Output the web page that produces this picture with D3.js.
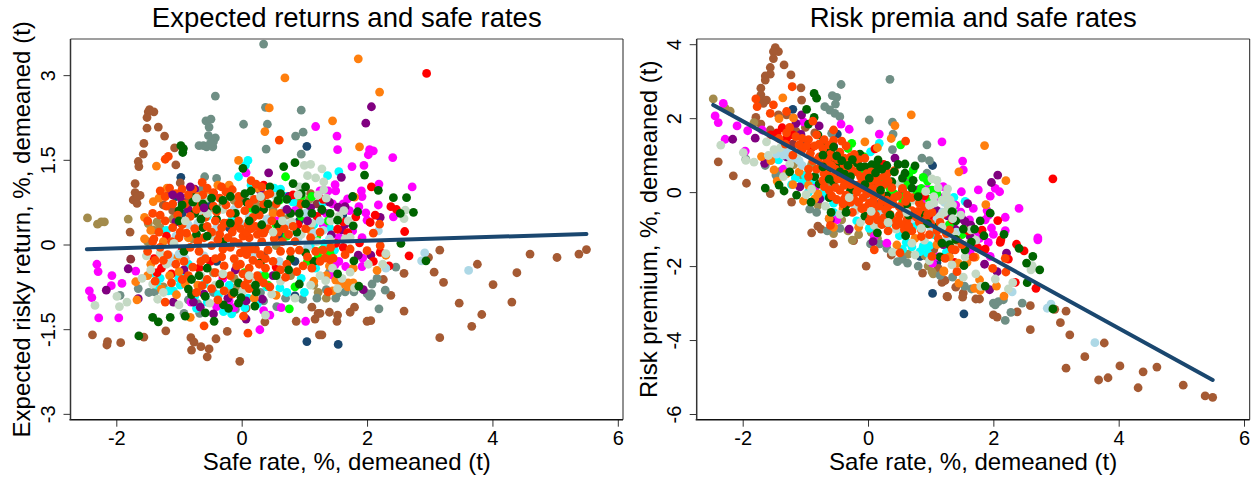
<!DOCTYPE html>
<html><head><meta charset="utf-8">
<script src="https://cdn.jsdelivr.net/npm/d3@7"></script>
<style>html,body{margin:0;padding:0;background:#fff;overflow:hidden}svg{display:block}text{font-family:"Liberation Sans",Arial,sans-serif;fill:#000}</style>
</head><body><svg id="c" width="1257" height="481"></svg>
<script>
const xTicks=[-2,0,2,4,6];
const leftYTicks=[-3,-1.5,0,1.5,3];
const rightYTicks=[-6,-4,-2,0,2,4];
const fitX=[-2.47,5.5];
const leftFitY=[-0.085,0.186];
const rightFitY=[2.357,-5.08];

const L_navy=[[1.04,1.74],[-.97,1.19],[1.61,.52],[1.04,-1.72],[.85,-.91],[1.54,-1.77],[-.72,.95],[-1.05,.85],[-.95,.55],[-.55,.72],[-.2,.3],[.35,-.2],[.62,.15],[.92,.42],[-.4,-.3],[.85,-.3]];
const L_brown=[[-1.47,2.39],[-1.4,2.35],[-1.49,2.35],[-1.51,2.25],[-1.51,2.06],[-1.33,2.08],[-1.23,1.92],[-1.56,1.79],[-1.07,1.71],[-1.57,1.6],[-1.65,1.47],[-1.64,1.38],[-1.05,1.41],[-1.7,1.08],[-1.7,.92],[-1.62,.87],[-1.73,.79],[-1.67,.73],[-1.66,.85],[-1.78,.22],[-.98,1.09],[-2.38,-1.6],[-2.14,-1.72],[-2.15,-1.78],[-1.93,-1.74],[-1.56,-1.64],[-1.21,-1.53],[-.81,-1.65],[-.76,-1.73],[-.8,-1.87],[-.65,-1.81],[-.52,-1.85],[-.55,-1.99],[-.41,-1.67],[-.23,-1.54],[-.03,-2.07],[.87,-1.36],[1.17,-1.32],[1.24,-1.6],[1.12,-1.11],[1.22,-1.22],[.37,-1.37],[.07,-1.13],[1.28,-1.6],[1.25,-1.22],[1.4,-1.2],[1.53,-1.25],[1.52,-1.36],[1.73,-1.2],[1.8,-1.11],[2,-1.36],[2.06,-1.35],[2.59,-1.18],[2.38,-.9],[2.26,-.62],[2.59,-.51],[3.07,-.49],[3.22,-.67],[3.16,-.1],[2.98,-.23],[3.76,-.35],[4.39,-.5],[4.6,-.17],[5.03,-.23],[5.38,-.17],[5.5,-.09],[4.01,-.71],[3.47,-1.04],[3.83,-1.24],[3.67,-1.45],[4.31,-1.02],[3.16,-1.65],[-1.25,.7],[-1.1,.6],[-.85,.8],[-.7,.72],[-.45,.9],[.02,.78],[.9,.62],[1.1,.9],[.32,.82]];
const L_tan=[[-2.46,.47],[-2.3,.36],[-2.24,.4],[-2.19,.4],[-1.81,.45],[-1.49,.37],[-1.41,.26],[-1.3,.3],[-1.1,.45],[-1,-.6],[-.78,.1],[-.45,-.5],[-.3,.7],[-.08,-.75],[.28,.65],[.55,-.02],[.72,.52],[1.08,.8],[1.15,-.72],[1.22,-.85],[1.35,-.95],[.78,-.55],[-.12,-.6],[-.88,-.58],[-.52,.83],[-.12,.78],[.22,.72],[.5,.62],[.9,.73],[-.68,-.75],[-.2,-.85],[-1.5,.05],[-1.35,.4],[-1.25,-.75]];
const L_gray=[[.35,3.55],[-.42,2.63],[.38,2.43],[.95,2.38],[.03,2.13],[.41,2.13],[.98,1.99],[.86,1.92],[.39,1.69],[.95,1.6],[-.57,2.19],[-.49,2.22],[-.52,2.08],[-.53,1.93],[-.42,1.89],[-.45,1.82],[-.68,1.75],[-.61,1.75],[-.56,1.73],[-.46,1.73],[-.5,1.79],[-.59,1.2],[-.4,1.17],[-.64,.97],[-1.94,-.9],[-1.65,-.78],[-1.48,-.85],[-1.39,-.84],[-.92,-1.22],[-.67,-1.22],[.97,-.97],[.56,-1.1],[2.19,-1.14],[2.46,-.4],[2.29,-.81],[2.08,-.7],[2.16,-.6],[2.04,-.92],[2.07,-.87],[2,-.87],[1.79,-.84],[1.65,-.84],[1.53,-.87],[1.4,-.49],[.35,-1],[-.1,-1.15],[-.45,-.85],[.3,-.85],[-.7,-1.05],[-.85,-.98],[1.2,-.95],[1.35,-.8],[.7,-.95],[1.5,-.95]];
const L_maroon=[[-1.77,-.26],[1.2,.72],[.42,.45]];
const L_magenta=[[1.18,2.09],[1.52,1.92],[1.53,1.68],[2.04,1.68],[2.1,1.66],[2.02,1.59],[2.41,1.54],[1.76,1.38],[1.95,1.4],[2.19,1.07],[1.49,1.06],[2.72,1.02],[1.91,.95],[1.92,.85],[1.69,.81],[2.18,.7],[1.87,.67],[1.98,.56],[2.42,.49],[2,.43],[1.77,.24],[1.92,.12],[.07,1.27],[-2.31,-.35],[-2.29,-.48],[-2.07,-.55],[-2.08,-.73],[-1.91,-.69],[-2.43,-.82],[-2.39,-.94],[-2.28,-1.3],[-1.96,-1.3],[-1.69,-.47],[.29,-1.51],[1.02,-1.36],[.63,-1.12],[.35,-1.17],[.45,-1.25],[-.81,-1.02],[1.92,-.39],[1.66,-.39],[1.49,-.36],[1.44,-.54],[1.93,-.24],[-.4,-1.1],[-.2,-1],[-.45,.9],[.55,.42],[.85,.6],[1.3,.35],[-.3,-.6],[1.35,.55],[1.45,.72],[1.55,.12],[-.12,-1.12],[1.5,.95],[1.62,.72],[1.38,.95],[1.25,.95],[1.72,.6],[1.55,-.3]];
const L_purple=[[2.07,2.44],[1.98,2.15],[1.59,1.19],[1.54,.66],[1.65,.67],[2.21,.48],[1.65,.36],[1.6,.26],[1.43,.17],[.43,1.27],[-2.16,-.81],[-1.81,-.43],[-1.65,-.96],[-1.09,-1.02],[-.66,-1.11],[-.45,-1.23],[-.77,-1.02],[-.22,-.95],[.07,-1.32],[.07,-1],[.33,-.97],[1.86,-.19],[2.06,-.19],[1.94,-.8],[-1.15,.92],[-.95,.75],[-.75,.98],[-.85,.62],[-1.05,.4],[.3,.95],[.75,.85],[1.1,.65],[-.1,-.45],[.5,-.55],[-.92,-.45],[1.28,.6],[1.4,.75],[-.6,-.88]];
const L_cyan=[[1.55,1.29],[1.37,1.22],[.1,1.49],[.06,1.4],[-.05,1.2],[.15,1.05],[.52,1],[.62,.98],[.7,.85],[-1.09,-.82],[-1.17,-.82],[-.72,-1.13],[-.37,-.89],[-.16,-1.23],[-.29,-1.19],[.61,-.77],[-.9,-.55],[-1.3,-.6],[-.6,-.7],[.3,-.55],[.95,-.6],[-.55,.5],[-1.2,.25],[-.15,.45],[1.15,.35],[1.3,.75],[1.32,.02],[-1.42,-.5],[-.75,-.92],[-.55,-1.02],[.1,-.95],[.4,-.75],[1.18,-.42],[.82,.75],[-.98,-.72],[-.2,-.72],[-1.35,-.72],[-1,-.6],[-.85,-.35],[.72,-.85],[1,-.85],[1.1,0],[1.4,.3],[1.48,-.1],[.25,-1.05],[.05,-1.12]];
const L_lime=[[.76,-1.14],[.37,-.55],[.85,-.75],[.7,1.2],[.6,.78],[.95,.5],[1.28,-.1],[1.41,-.16],[.2,-.7],[.55,.35],[1.12,.85],[1.05,-.3],[.15,.6],[.95,.85],[1.2,.15],[.05,-.5],[.42,-.72],[.72,.15],[1.38,.42],[1.22,-.22]];
const L_red=[[2.95,3.03],[2.07,1.02],[2.38,.67],[2.47,.62],[1.82,.49],[2.13,.52],[2.05,.39],[2.6,.23],[1.53,.27],[1.69,.21],[2.67,-.2],[2.35,-.38],[2.21,-.14],[1.88,.03],[2.1,-.3],[-1.4,-.25],[-1.35,-.5],[-.95,-.1],[-.5,-.3],[-.3,-.55],[.15,.45],[.35,1.05],[.9,.35],[1.2,.5],[.55,-.4],[-1.2,.15],[-1.28,-.42],[-1.12,-.52],[-.68,-.42],[.82,.88],[1.5,.02],[1.62,-.05],[1.3,.8],[1.62,.4]];
const L_orange=[[.69,2.95],[.44,2.42],[.37,2],[-1.36,1.39],[-.05,1.49],[-1.41,.76],[-1.19,1],[1.86,3.29],[2.2,2.7],[1.45,2.19],[1.88,1.73],[1.8,.84],[-1.67,-.98],[-1.69,-.66],[-1.28,-.79],[-1.04,-.89],[-.82,-1.29],[2.16,-.46],[1.78,-.42],[1.78,-.68],[1.7,-.68],[1.69,-.75],[1.45,-.82],[1.5,-.63],[2.3,-.19],[-1.45,.25],[-1.25,.05],[-1.05,-.25],[-.85,.12],[-.7,.85],[-.55,.95],[-.2,1.05],[.5,.55],[1.1,.25],[-.9,-.7],[-1.45,-.35],[.2,-.95],[-1.55,.48],[-1.32,.82],[-1,-.48],[-.38,1.05],[.25,1],[1.4,-.38],[-1.55,.1],[-1.5,-.55],[-1.15,-.55],[-.7,-.72],[.55,-.9],[1.15,-.65],[1.35,-.55],[1.58,-.7]];
const L_lightblue=[[3.62,-.46],[2.92,-.15],[2.87,-.29],[2.3,-.42],[2.18,.24],[-1.15,-.2],[-1,-.17],[-.9,-.25],[-1.05,.15],[-.2,.1],[.05,.35],[.4,.45],[.75,.35],[.9,.12],[1.15,.2],[1.25,.42],[1.05,-.05],[.2,-.15],[-.4,.3],[-.6,-.2],[1.4,.1],[.6,-.3],[-1.22,-.25],[-1.1,-.32],[-.7,.38],[-.12,.62],[.38,.7],[.68,.6],[1.02,.55],[-.85,.35],[1.3,.25],[.12,.5]];
const L_pale=[[1.28,1.34],[1.31,1.11],[1.31,.97],[2.61,.61],[2.59,.46],[1.63,.6],[1.73,.13],[-2.34,-1.08],[-1.95,-1.1],[-1.99,-.92],[-1.83,-1.02],[-1.34,-.97],[-1,-1.07],[-1.59,-.6],[.38,-1.25],[-.51,-1.04],[2.02,-.35],[2.25,-.35],[1.73,-.49],[1.34,-.64],[1.53,-.78],[2.3,-.16],[1.8,-.77],[1,1.4],[1.1,1.42],[1.05,1.22],[1.18,1.18],[-1.45,-.45],[-1.2,-.35],[-1.3,-.15],[-.62,.55],[-.45,.15],[-.3,.62],[-.1,-.3],[.18,-.65],[.55,.85],[.8,.4],[1.2,.05],[.62,-.65],[-.65,-.55],[-.92,.2],[-.55,.82],[-.22,.85],[.15,.82],[.92,1.02],[1.22,.88],[-.28,-.82],[.48,-.88],[.02,-.82],[-.42,-.72],[.95,.18],[1.35,.82],[1.42,.42],[1.42,.05],[1.55,.5],[1.7,.42],[1.45,-.42],[1.6,-.6],[1.25,-.55],[1.1,-.72],[.85,-.95],[-1.52,-.2],[-1.42,-.7],[-1.25,-.85],[1.65,.1]];
const L_green=[[1.96,1.23],[2.18,.96],[1.77,.85],[2.42,.83],[2.63,.83],[2.74,.57],[2.53,.55],[1.85,.58],[1.41,.55],[1.53,.43],[1.78,.33],[-1.42,-1.29],[-1.33,-1.37],[-1.14,-1.29],[-.9,-1.27],[-.58,-1.21],[-.44,-1.36],[-1.64,-1.62],[-.85,-.79],[-.8,-.89],[-.58,-.92],[-.29,-1.07],[-.21,-1.13],[-.05,-1.04],[.21,-1.09],[.23,-.84],[-.01,-.94],[2.94,-.29],[2.54,.02],[1.87,-.74],[1.79,-.29],[1.53,-.52],[-.97,1.75],[-.94,1.63],[-.93,1.7],[.02,1.35],[.67,1.38],[.85,1.45],[.15,.95],[.45,1.02],[.72,.8],[.95,.9],[-.82,.9],[-.75,.55],[-.55,.6],[-.4,.45],[-.62,.3],[-.72,.18],[-.3,.05],[-.1,.55],[.08,.75],[.35,.62],[.58,.35],[.88,.22],[1.12,.55],[-.92,-.12],[-.55,-.42],[-.68,-.55],[-.35,-.7],[-.05,-.68],[.3,-.32],[.78,-.25],[1.02,-.15],[.92,-.7],[-1,.6],[1.15,-.3]];
const L_orangered=[[.6,1.85],[-1.17,1.56],[-1.22,1.51],[2.2,.36],[2.1,.2],[1.65,-.18],[1.41,-.27],[1.33,-.24],[1.46,-.24],[2,-.11],[2.21,-.02],[1.73,-.08],[1.38,-.84],[-1.22,-1.02],[-.6,-1.44],[.1,-1.57],[.03,-1.27],[-.63,-.73],[.15,1.13],[.23,1.07],[.32,1.02],[-.63,1.1],[-1.3,.95],[-1.22,.85],[-1.15,1],[-1.05,.9],[-.95,.98],[-.85,.88],[-.78,.98],[-.55,1],[-.45,.92],[-.32,1.02],[-.25,.93],[-.15,.97],[-.05,.85],[.45,.9],[-1.5,.42],[-1.42,.55],[-1.3,.52],[-1.2,.68],[-1.1,.72],[-.95,.35],[-.82,.5],[-.65,.72],[-.45,.68],[-.25,.7],[-.15,.22],[-.02,.28],[.1,.35],[.25,.18],[.05,.6],[.2,.8],[.42,.28],[.52,.1],[.65,.05],[.75,.18],[-1.3,-.05],[-1.18,-.18],[-1.05,-.35],[-.92,-.3],[-.82,-.05],[-.7,.05],[-.6,.12],[-.48,-.02],[-.35,.18],[-.28,.38],[-.18,-.05],[-.05,.02],[.05,-.05],[.12,.12],[.22,-.08],[.32,.05],[.42,-.1],[.18,-.28],[.28,-.35],[.38,-.42],[.5,-.3],[.62,-.12],[.72,-.35],[.85,.05],[.98,-.38],[1.1,.12],[1.02,.28],[-.95,-.62],[-.78,-.4],[-.65,-.3],[-.55,-.62],[-.42,-.5],[-.28,-.38],[-.18,-.55],[-.08,-.38],[.02,-.52],[.45,-.75],[.7,-.58],[.88,-.48],[1.12,-.42],[-1.38,-.65],[-1.12,-.68],[-.72,-.85],[-.38,-.98],[.12,-.78],[-1,.12],[-.4,.58],[.62,.55],[.95,.72]];
const L_orangeredCore=[[-.42,.42],[-.32,.3],[-.22,.38],[-.12,.32],[-.05,.42],[.02,.15],[.08,.22],[.15,.28],[.22,.32],[.3,.3],[.35,.2],[-.38,.08],[-.3,-.08],[-.22,.12],[-.12,.05],[-.02,-.15],[.08,-.18],[.15,-.08],[.3,-.18],[.38,-.25],[-.48,.22],[-.55,.32],[-.75,.28],[-.88,.2],[-.98,.22],[-1.1,.3],[-1.22,.42],[-1.32,.22],[-1.4,.1],[-1.12,.05],[-.68,-.12],[-.58,-.25],[-.42,-.25],[-.32,-.22],[-.85,-.55],[-1.25,-.28],[-.12,-.25],[-.02,-.35],[.12,-.42],[.1,-.62],[.25,-.55],[.35,-.68],[.62,-.45],[.78,-.12],[.92,-.1],[1.05,-.22],[1.18,-.12],[.58,.22],[.68,.28],[.82,.32],[.48,.42],[.28,.52],[.18,.48],[.12,.72],[-.05,.72],[-.18,.55],[-.35,.82],[-.62,.88],[-.9,.72],[-1.02,.52],[-.58,.48],[-.72,.62],[-.48,-.78],[-.28,-.82],[-.15,-.88],[.05,-.72],[.28,-.62],[-1.42,.05],[-1.5,-.12],[-1.38,-.28],[.35,.72],[.55,.72],[.4,.88],[1.25,.22],[1.3,-.1],[1.25,-.3],[1.42,-.05]];
const L_greenCore=[[-.95,.7],[-.78,.75],[-.62,.72],[-.48,.82],[-.3,.78],[-.18,.85],[.05,.9],[.22,.62],[.42,.72],[.58,.78],[.78,.55],[.92,.55],[1.02,.72],[-.65,.45],[-.55,.15],[-.18,.38],[.12,.42],[.32,.35],[-1,.42],[-.4,.62],[.62,.9],[.82,1.08],[1.02,1.02],[1.28,.62],[.55,-.55],[-.8,-.62],[-.12,-.85],[.22,-.72],[.75,-.45]];
const L_paleTop=[[-.9,.42],[-.72,.82],[-.55,.55],[.3,.85],[.65,.42],[.9,.88],[.12,-.55],[-.3,-.52],[1.12,.38],[-1.08,.02],[.5,.22]];
const L_purpleTop=[[-1.1,.88],[-.82,1.02],[-.6,.65],[-.98,.85],[.72,.62],[1.05,.42]];

const R_navy=[[-1.2,2.24],[-.49,1.57],[1.03,.72],[1.53,-3.29],[1.03,-2.74],[.83,-1.74],[1.1,-1.91],[-1,1.35],[-.72,1.2],[-.3,.55],[.2,-.3],[.55,-.5],[1.3,-1.6]];
const R_brown=[[-1.48,3.91],[-1.43,3.8],[-1.51,3.8],[-1.51,3.61],[-1.34,3.44],[-1.56,3.37],[-1.56,3.19],[-1.64,3.14],[-1.64,3.03],[-1.23,3.17],[-1.71,2.81],[-1.07,2.82],[-1.71,2.63],[-1.06,2.49],[-1.7,2.49],[-1.62,2.49],[-1.67,2.4],[-1.79,2.02],[-1.71,1.84],[-2.39,.82],[-2.15,.44],[-1.94,.24],[-1.56,-.04],[-1.22,-.27],[-1.56,1.68],[-1.43,2.09],[-1.3,2.09],[5.5,-5.55],[5.38,-5.51],[5.03,-5.22],[4.61,-4.73],[4.39,-4.86],[4.31,-5.29],[4.02,-4.7],[3.83,-5.02],[3.68,-5.08],[3.46,-4.45],[3.16,-4.76],[3.77,-4.08],[3.22,-3.86],[3.07,-3.53],[3.16,-3.22],[2.98,-3.17],[2.59,-3.72],[2.59,-3.07],[2.38,-3.24],[2.06,-3.38],[2,-3.32],[1.78,-2.89],[1.72,-2.89],[1.52,-2.73],[1.51,-2.84],[1.27,-2.83],[1.18,-2.44],[1.23,-2.39],[1.4,-2.57],[-.03,-2],[-.55,-1.4],[-.23,-1.31],[.87,-2.19],[1.26,-2.82],[1.12,-2.06],[.37,-1.7],[-.8,-.92],[-.9,-1.1],[-.75,-1],[-1,1.75],[-.85,1.6],[-1.15,1.65],[.05,.45],[1.05,-1.55]];
const R_tan=[[-2.47,2.52],[-2.28,2.27],[-2.2,2.19],[-1.82,1.88],[-1.38,.58],[-1.19,.74],[-1.06,.46],[.64,-1.68],[.91,-1.72],[.96,-2],[1.02,-2.15],[1.04,-2.21],[-.9,.75],[-.62,.2],[-.42,-.75],[-.15,-1.15],[.2,-.8],[.55,-.3],[-.32,-1.05],[.05,-1.08],[-1,.3],[-.8,-.35],[-.25,-1.3],[.15,-1.25],[-.55,-1.12]];
const R_gray=[[-.43,2.91],[.35,3.05],[-.57,2.61],[-.5,2.56],[-.52,2.38],[-.69,2.31],[-.61,2.22],[-.53,2.13],[-.45,2.04],[.02,1.95],[.39,1.89],[.4,1.57],[.39,1.15],[.94,1.28],[.86,.92],[.98,.85],[.94,.51],[-1.47,.46],[-.93,-.46],[-.58,1.59],[-1.95,.89],[-1.64,.72],[2.46,-3],[2.19,-3.47],[2.28,-3.25],[2.03,-3.05],[2.08,-2.96],[2,-3],[2.16,-2.91],[1.65,-2.62],[1.54,-2.54],[.47,-1.88],[.55,-1.81],[.63,-1.92],[.04,-1.4],[.19,-1.4],[.3,-1.52],[-.65,-1.05],[-.45,-.98],[-.62,-.72],[-.82,-.55],[1.35,-2.3],[1.15,-2.25],[.8,-2]];
const R_maroon=[[-1.2,1.3],[.55,.05]];
const R_magenta=[[-2.31,2.4],[-2.44,2.06],[-2.39,1.88],[-2.09,1.79],[-1.92,1.66],[-2.28,1.43],[-1.96,1.11],[-1.69,1.68],[-.43,1.84],[-.3,1.7],[.18,1.57],[1.18,1.36],[-1.03,1.9],[1.51,.84],[1.52,.6],[1.49,.01],[1.76,.06],[1.95,-.11],[2.03,.1],[2.1,.01],[2.41,-.44],[1.68,-.44],[1.48,-.54],[1.9,-.5],[1.92,-.63],[1.87,-.75],[2.19,-.68],[1.97,-.97],[2.19,-1.04],[2,-1.14],[2.71,-1.24],[1.2,.15],[1.75,-1.07],[1.92,-1.36],[2.71,-1.29],[1.95,-1.74],[1.63,-1.61],[.3,-1.38],[1.03,-1.92],[.6,.3],[.85,-.25],[1.15,-.15],[-.85,.1],[-.5,-.75],[1.32,-.3],[.95,.08],[.1,-1.2],[1.4,-.35],[1.62,-.75],[1.45,-1.35],[1.78,-1.25],[1.12,-1.75],[-1.35,.62]];
const R_purple=[[-2.16,1.43],[-1.8,1.46],[-1.65,.78],[-1.15,1.86],[-1.06,2.09],[-.78,1.79],[-1.07,1.56],[-1.09,.14],[.43,.92],[-.77,-.18],[.8,.06],[2.07,.46],[1.97,.26],[1.59,-.31],[1.55,-.8],[1.64,-.89],[1.63,-1.2],[1.39,-1],[1.27,-.64],[2.21,-1.65],[2.06,-2.15],[1.86,-1.95],[1.94,-2.64],[.08,-1.34],[-.6,-.75],[-.3,-1],[-1.3,.95],[-.55,1.25],[1.1,-.5],[1.3,-.9],[1.5,-.72],[1.2,-1.42]];
const R_cyan=[[.18,1.32],[.04,1.09],[-1.16,.38],[-1.43,.87],[1.37,-.14],[1.55,-.25],[1.24,-.1],[.88,-1.47],[.61,-1.36],[.83,-1.61],[-1,.45],[-.9,.3],[-.55,-.3],[-.3,-.1],[.12,-.55],[.32,-.85],[.75,-.9],[1.05,-1.15],[-1.05,.25],[-1.22,.2],[-.72,-.02],[.5,-1.18],[.02,-.98],[-.18,-.78],[.98,-1.45],[.55,-1.55],[.7,-1.48],[.95,-1.65],[1.25,-1.62],[-.95,0],[-.75,-.15],[-.55,-.55]];
const R_lime=[[.52,1.28],[-.26,1.32],[-.07,.96],[.72,.6],[.85,.1],[.98,-.2],[.65,.45],[.42,-.05],[1.3,-.88],[1.5,-1.15],[.2,.3],[-.1,.6],[.88,.4],[1.02,.05],[.58,-.12],[.35,.1],[-.32,1.18],[.62,.2],[.95,.3],[1.1,-.05],[.78,-.05],[.55,-.18],[1.35,-.52]];
const R_red=[[-1.37,1.74],[.11,1.17],[.31,.51],[2.95,.36],[2.07,-.77],[1.82,-1.03],[2.12,-1.29],[2.68,-2.6],[2.35,-2.44],[2.49,-1.59],[2.37,-1.41],[2.11,-1.36],[2.24,-1.81],[1.87,-1.54],[-1.45,1.6],[-1.2,1.55],[-.9,1.2],[.6,-.45],[1,-.75],[1.35,-.75],[.25,.75],[-1.55,1.55],[-1.3,1.45],[1.2,-.6],[.9,-.1],[1.6,-1.05],[1.75,-1.5],[1.38,-1.9]];
const R_orange=[[-1.36,2.55],[.69,2.09],[.43,1.8],[.37,1.45],[-.05,1.36],[-1.42,1.99],[-1.19,2.01],[-1.7,.96],[-1.03,-.24],[-.62,-.71],[1.86,1.26],[1.45,.55],[2.2,.31],[1.88,-.34],[2.17,-2.81],[2.05,-2.54],[1.78,-2.37],[1.7,-2.6],[1.79,-2.66],[1.45,-2.46],[1.21,-2.15],[1.44,-1.92],[1.71,-1.76],[.46,-1.43],[1.21,-2.13],[-1.55,.85],[-1.2,.2],[-.8,-.05],[-.7,1],[-.25,.82],[-1.5,.6],[-1.3,.5],[-.85,-.18],[-.4,-.45],[.15,1.2],[.75,-1.25],[1.3,-1.75],[1.1,-1.42],[1.58,-1.9],[-1.45,.3],[-1.1,.55],[-.95,.18],[-.55,-.95],[-.15,-.95]];
const R_lightblue=[[3.62,-4.07],[2.92,-3.03],[2.86,-3.14],[2.3,-2.7],[1.41,-1.08],[1.19,-.54],[-1.46,1.03],[-1.35,1],[-1.25,.96],[-1.3,1.09],[-1.1,.85],[-.35,.25],[0,-.1],[.25,-.55],[.7,-.72],[1,-.95],[1.25,-1.3],[-1.18,.92],[-1.05,.72],[-.2,-.42],[.35,-.28],[.88,-.45],[1.1,-.72],[1.22,-.28],[.1,.12]];
const R_pale=[[-2.35,1.27],[-1.99,1.07],[-1.95,.86],[-1.82,.81],[-1.62,1.36],[-1.59,.99],[-1.35,.42],[-.99,-.07],[1.02,.36],[1.1,.32],[1.27,.09],[1.31,-.21],[1.64,-1.02],[1.28,-.39],[2.6,-2.1],[2.62,-1.99],[2.31,-2.45],[2.24,-2.62],[2.03,-2.35],[1.72,-2.21],[1.52,-2.3],[1.8,-2.55],[1.34,-1.97],[.39,-1.62],[.7,-1.38],[-1.5,1.15],[-1.25,.75],[-.75,.55],[-.45,-.6],[-.2,-.5],[.1,-.9],[.45,-1],[.85,-.55],[1.15,-.65],[-.3,.8],[.1,.6],[-.9,.08],[-1.4,1.2],[-1.12,1.05],[-.68,-.38],[-.12,-.82],[.72,-.22],[1.05,-.3],[.92,.02],[1.18,-.22],[.28,-.15],[-.48,.1],[.5,.22],[-.62,.78],[1.22,-1.05],[1.42,-1.48],[1.12,.12],[1.25,-.05],[1.05,-.12],[1.35,-.35],[1.22,-.55],[1.48,-.62],[1.38,-1.15],[1.6,-1.4],[1.72,-1.3],[1.55,-1.75],[.9,-1.3],[.75,-1.7],[.98,-1.85]];
const R_green=[[-.86,2.67],[-.82,2.54],[-.98,2.24],[-.86,2.02],[-.95,1.84],[-1.64,.11],[-1.42,.19],[-1.34,.03],[-1.14,-.08],[-.91,-.27],[-.59,-.55],[-.13,1.03],[.75,.71],[.59,.76],[.59,.51],[.38,.28],[-.05,.69],[.16,.87],[.14,.69],[.06,.74],[-.17,.78],[.7,.11],[1.79,-.78],[1.4,-.78],[1.52,-1],[1.85,-1.18],[2.17,-1.14],[1.34,-.53],[1.95,-.57],[2.95,-3.16],[2.63,-1.74],[2.53,-1.92],[2.74,-2.1],[2.54,-2.45],[1.87,-2.54],[1.53,-1.99],[2.41,-1.52],[1.55,-1.56],[-.8,1.55],[-.72,1.35],[-.6,1.1],[-.55,.85],[-.45,.72],[-.65,.6],[-.38,.5],[-.85,.42],[-.78,.22],[-.55,.28],[-.28,.05],[.1,.3],[.3,-.1],[.62,-.35],[.9,-.62],[-.62,-.15],[-.35,-.35],[-.05,-.65],[.15,-1.1],[1.1,-.95],[1.15,-1.75],[1.3,-1.42],[1.65,-1.35],[1.7,-1],[-1.25,.55]];
const R_orangered=[[-1.21,2.85],[-1.79,2.52],[-1.77,2.31],[-1.51,2.36],[-1.56,2.13],[-1.3,2.18],[.6,1.38],[-.88,1.92],[-.55,1.68],[.1,-1.56],[.51,-1.64],[1.02,-1.74],[2.2,-2.16],[1.99,-2.06],[2.19,-1.79],[1.68,-1.76],[1.39,-1.56],[1.34,-1.54],[1.42,-2.15],[1.23,-1.79],[-.6,-.9],[-1.25,1.75],[-1.15,1.5],[-1.05,1.45],[-.95,1.42],[-.82,1.55],[-.7,1.42],[-.55,1.4],[-.42,1.38],[-.35,1.25],[-.22,1.02],[-1.05,1.15],[-.92,1.05],[-.78,.95],[-.65,.85],[-.55,.95],[-.45,1.08],[-.3,.68],[-.18,.55],[-.65,.45],[-.52,.62],[-.42,.35],[-.3,.3],[-.18,.18],[-.05,.35],[.08,.1],[.18,.2],[.3,.5],[.42,.58],[-.45,.05],[-.35,-.08],[-.22,-.2],[-.08,-.15],[.02,-.3],[.1,-.42],[.22,-.25],[.32,-.38],[.42,-.15],[.5,-.62],[.62,-.75],[.72,-.62],[.82,-.82],[.92,-.75],[1.02,-.55],[.05,-.65],[.15,-.75],[.25,-.7],[.35,-.6],[.45,-.9],[.58,-1.02],[.7,-1.05],[.85,-1.2],[.98,-1.15],[1.12,-1.25],[-.1,-.45],[-.25,-.55],[-.7,.15],[-.95,.62],[-1.2,1],[-.58,-.1],[.55,.1],[.7,-.15],[.32,-1.05],[.12,.02],[-.85,1.25],[1.25,-1.12]];
const R_orangeredCore=[[-.72,1.18],[-.6,1.02],[-.48,.88],[-.38,.92],[-.28,.95],[-.15,.88],[-.05,.92],[-.38,.72],[-.25,.58],[-.12,.42],[-.02,.5],[.05,.55],[.15,.38],[.25,.2],[-.58,.42],[-.48,.35],[-.38,.18],[-.28,.2],[-.18,0],[-.08,.1],[0,.18],[.1,-.12],[.2,-.05],[.3,-.22],[.4,-.32],[.5,-.4],[.6,-.25],[.7,-.5],[.8,-.52],[.9,-.4],[1,-.85],[1.1,-1.05],[-.02,-.05],[.08,-.25],[.18,-.38],[.28,-.48],[.38,-.72],[.48,-.78],[.55,-.88],[.65,-.92],[.78,-.68],[-.15,-.28],[-.05,-.42],[.02,-.78],[.12,-.62],[.22,-.88],[-1.3,1.6],[-1.42,1.45],[-1.1,1.28],[-.98,1.25],[-1.32,1.3],[-.78,1.3],[-.62,1.28],[-.88,.85],[-.75,.75],[-.82,.62],[-.7,.5],[-.58,.72],[-.48,.55],[-.95,.42],[-.62,.05],[-.5,-.2],[-.38,-.18],[-.28,-.28],[-.4,-.32],[-.12,.22],[.1,.32],[.25,.42],[.38,.12],[.48,-.1],[.62,-.08],[.82,-.3],[.95,-.6],[1.15,-.82],[1.3,-1.02],[1.42,-1.3],[1.5,-1.42],[-.72,.32],[-.52,.12],[.85,-1.02],[.32,.3]];
const R_greenCore=[[-.72,1],[-.55,1.22],[-.5,.98],[-.42,.85],[-.32,.72],[-.25,.88],[-.45,.55],[-.28,.42],[-.12,.68],[.02,.38],[.12,.52],[.22,.62],[.3,.72],[.42,.55],[.48,.75],[-.62,.35],[-.05,.2],[.2,.05],[.55,.38],[.72,.32],[.8,-.12],[-.72,.68],[.35,-.62],[.65,-.62],[.95,-.85],[.6,-1.18],[1.18,-1.38],[1.4,-1.28],[-.35,-.55]];
const R_paleTop=[[.62,-.55],[.98,-.35],[.85,-.98],[.32,-.82],[.05,-.52],[-.3,-.15],[1.18,-.95],[1.35,-.72]];

const colors={navy:"#1a476f",brown:"#a55a33",tan:"#a38b4c",gray:"#6f8f85",maroon:"#90353b",magenta:"#ff00ff",purple:"#800080",cyan:"#00ffff",lime:"#00ff00",red:"#ff0000",orange:"#ff7f0e",lightblue:"#add8e6",pale:"#c4d9c4",green:"#006400",orangered:"#ff4500"};
const leftSeries=[["navy",L_navy],["brown",L_brown],["tan",L_tan],["gray",L_gray],["maroon",L_maroon],["cyan",L_cyan],["magenta",L_magenta],["purple",L_purple],["lime",L_lime],["red",L_red],["orange",L_orange],["lightblue",L_lightblue],["pale",L_pale],["green",L_green],["orangered",L_orangered],["orangered",L_orangeredCore],["green",L_greenCore],["pale",L_paleTop],["purple",L_purpleTop]];
const rightSeries=[["navy",R_navy],["brown",R_brown],["tan",R_tan],["gray",R_gray],["maroon",R_maroon],["cyan",R_cyan],["magenta",R_magenta],["purple",R_purple],["lime",R_lime],["red",R_red],["orange",R_orange],["lightblue",R_lightblue],["pale",R_pale],["green",R_green],["orangered",R_orangered],["orangered",R_orangeredCore],["green",R_greenCore],["pale",R_paleTop]];

const svg=d3.select("#c");
function panel(o){
  const x=d3.scaleLinear().domain([-2,6]).range(o.xr);
  const y=d3.scaleLinear().domain(o.yd).range(o.yr);
  const g=svg.append("g");
  o.series.forEach(([k,pts])=>{
    g.append("g").selectAll("circle").data(pts).join("circle")
      .attr("cx",d=>x(d[0])).attr("cy",d=>y(d[1])).attr("r",4.4).attr("fill",colors[k]);
  });
  g.append("path").attr("fill","none").attr("stroke","#1a476f").attr("stroke-width",4).attr("stroke-linecap","round")
    .attr("d",d3.line().x(d=>x(d[0])).y(d=>y(d[1]))(fitX.map((v,i)=>[v,o.fit[i]])));
  const bottom=419.7, top=39;
  g.append("line").attr("x1",o.l).attr("x2",o.r).attr("y1",top).attr("y2",top).attr("stroke","#7f7f7f").attr("stroke-width",1.6);
  g.append("line").attr("x1",o.r).attr("x2",o.r).attr("y1",top).attr("y2",bottom).attr("stroke","#222").attr("stroke-width",1);
  const ax=g.append("g").attr("transform",`translate(0,${bottom})`)
    .call(d3.axisBottom(x).tickValues(xTicks).tickSize(7).tickFormat(d=>String(d)));
  ax.select(".domain").remove();
  ax.append("line").attr("x1",o.l-1).attr("x2",o.r).attr("stroke","#111").attr("stroke-width",1.5);
  ax.selectAll(".tick line").attr("stroke","#333").attr("stroke-width",1);
  ax.selectAll(".tick text").attr("font-size",20).attr("dy",null).attr("y",25.5).style("fill","#000");
  const ay=g.append("g").attr("transform",`translate(${o.l},0)`)
    .call(d3.axisLeft(y).tickValues(o.yt).tickSize(7).tickFormat(d=>String(d)));
  ay.select(".domain").remove();
  ay.append("line").attr("y1",top).attr("y2",bottom).attr("stroke","#333").attr("stroke-width",1.5);
  ay.selectAll(".tick line").attr("stroke","#333").attr("stroke-width",1);
  ay.selectAll(".tick text").attr("font-size",20).attr("x",null).attr("dy",null)
    .attr("text-anchor","middle").attr("transform","translate(-16,0) rotate(-90)").style("fill","#000");
  const cx=(o.l+o.r)/2;
  g.append("text").attr("x",cx).attr("y",27).attr("text-anchor","middle").attr("font-size",o.titleSize).text(o.title);
  g.append("text").attr("x",cx).attr("y",470).attr("text-anchor","middle").attr("font-size",o.labelSize).text("Safe rate, %, demeaned (t)");
  g.append("text").attr("transform",`translate(${o.ylx},229.3) rotate(-90)`).attr("text-anchor","middle").attr("font-size",o.labelSize).text(o.ylabel);
}
panel({series:leftSeries,fit:leftFitY,xr:[116.3,617.8],yd:[-3,3],yr:[413.85,75.15],yt:leftYTicks,l:70.5,r:623,
  title:"Expected returns and safe rates",ylabel:"Expected risky return, %, demeaned (t)",ylx:30,titleSize:27.5,labelSize:24});
panel({series:rightSeries,fit:rightFitY,xr:[742.7,1244],yd:[-6,4],yr:[414,44.2],yt:rightYTicks,l:696.7,r:1249.7,
  title:"Risk premia and safe rates",ylabel:"Risk premium, %, demeaned (t)",ylx:656.7,titleSize:27.5,labelSize:24});
</script></body></html>
